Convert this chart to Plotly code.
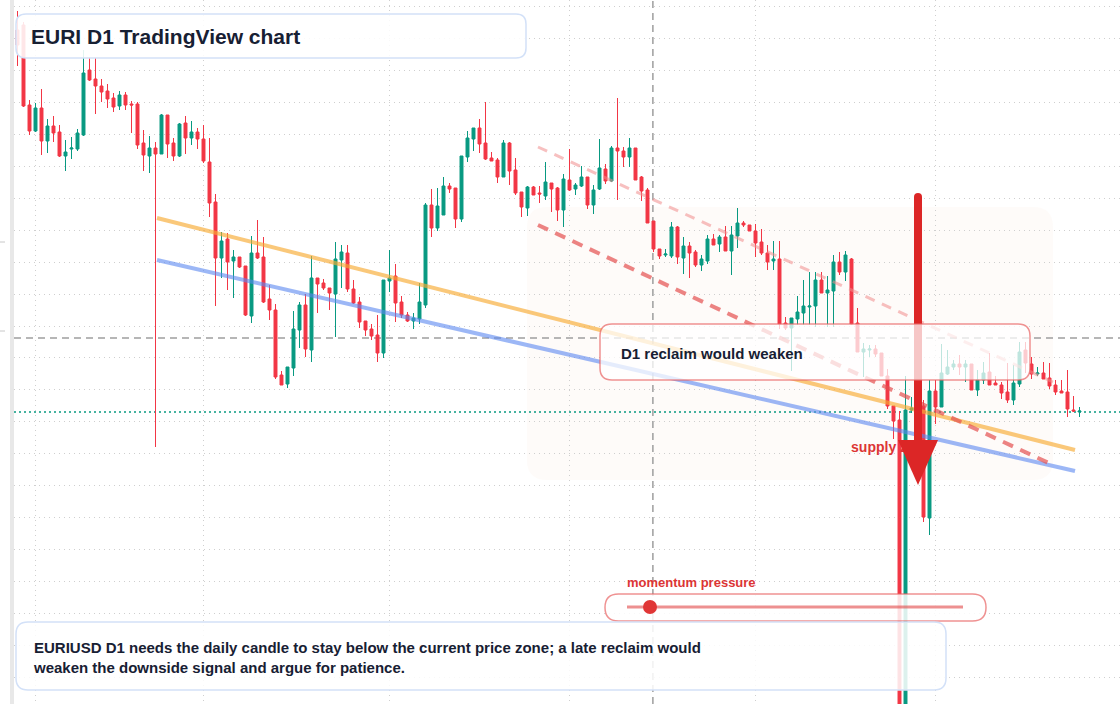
import pandas as pd
import plotly.graph_objects as go

# ---------------- data ----------------
START_DATE = "2025-01-29"
N_CANDLES = 178
dates = pd.date_range(START_DATE, periods=N_CANDLES, freq="D")

OPEN = [1.1970, 1.1975, 1.1895, 1.1869, 1.1892, 1.1859, 1.1874, 1.1868, 1.1844, 1.1851,
        1.1851, 1.1865, 1.1930, 1.1921, 1.1914, 1.1909, 1.1902, 1.1894, 1.1905, 1.1896,
        1.1896, 1.1857, 1.1844, 1.1852, 1.1846, 1.1885, 1.1857, 1.1844, 1.1877, 1.1862,
        1.1868, 1.1861, 1.1838, 1.1798, 1.1742, 1.1761, 1.1739, 1.1743, 1.1734, 1.1684,
        1.1747, 1.1743, 1.1701, 1.1690, 1.1625, 1.1616, 1.1632, 1.1670, 1.1695, 1.1650,
        1.1722, 1.1717, 1.1712, 1.1706, 1.1740, 1.1747, 1.1711, 1.1698, 1.1679, 1.1671,
        1.1665, 1.1647, 1.1719, 1.1724, 1.1698, 1.1685, 1.1679, 1.1681, 1.1695, 1.1795,
        1.1772, 1.1785, 1.1814, 1.1812, 1.1781, 1.1843, 1.1861, 1.1872, 1.1857, 1.1842,
        1.1840, 1.1823, 1.1857, 1.1830, 1.1808, 1.1792, 1.1813, 1.1807, 1.1804, 1.1817,
        1.1812, 1.1790, 1.1820, 1.1811, 1.1814, 1.1823, 1.1795, 1.1811, 1.1831, 1.1819,
        1.1852, 1.1849, 1.1843, 1.1852, 1.1823, 1.1810, 1.1779, 1.1751, 1.1745, 1.1744,
        1.1773, 1.1742, 1.1754, 1.1748, 1.1735, 1.1739, 1.1761, 1.1756, 1.1763, 1.1749,
        1.1764, 1.1777, 1.1775, 1.1769, 1.1758, 1.1747, 1.1739, 1.1741, 1.1677, 1.1672,
        1.1681, 1.1687, 1.1693, 1.1694, 1.1720, 1.1707, 1.1709, 1.1738, 1.1728, 1.1741,
        1.1677, 1.1648, 1.1650, 1.1651, 1.1647, 1.1624, 1.1594, 1.1580, 1.1010, 1.1590,
        1.1590, 1.1594, 1.1482, 1.1609, 1.1593, 1.1626, 1.1633, 1.1636, 1.1633, 1.1636,
        1.1610, 1.1620, 1.1628, 1.1617, 1.1615, 1.1608, 1.1600, 1.1616, 1.1650, 1.1636,
        1.1626, 1.1627, 1.1622, 1.1615, 1.1609, 1.1608, 1.1590, 1.1588]

HIGH = [1.1989, 1.1978, 1.1900, 1.1897, 1.1911, 1.1881, 1.1884, 1.1875, 1.1860, 1.1863,
        1.1871, 1.1950, 1.1943, 1.1942, 1.1921, 1.1916, 1.1907, 1.1909, 1.1908, 1.1899,
        1.1898, 1.1870, 1.1864, 1.1858, 1.1886, 1.1885, 1.1862, 1.1877, 1.1884, 1.1879,
        1.1872, 1.1875, 1.1862, 1.1806, 1.1768, 1.1767, 1.1750, 1.1743, 1.1734, 1.1764,
        1.1780, 1.1763, 1.1715, 1.1696, 1.1629, 1.1633, 1.1689, 1.1698, 1.1706, 1.1744,
        1.1722, 1.1721, 1.1712, 1.1758, 1.1755, 1.1755, 1.1720, 1.1703, 1.1679, 1.1676,
        1.1685, 1.1720, 1.1750, 1.1736, 1.1704, 1.1688, 1.1687, 1.1717, 1.1797, 1.1811,
        1.1812, 1.1823, 1.1817, 1.1812, 1.1844, 1.1869, 1.1872, 1.1881, 1.1898, 1.1848,
        1.1842, 1.1860, 1.1858, 1.1842, 1.1808, 1.1814, 1.1814, 1.1814, 1.1838, 1.1817,
        1.1813, 1.1826, 1.1851, 1.1817, 1.1834, 1.1823, 1.1815, 1.1861, 1.1836, 1.1854,
        1.1902, 1.1853, 1.1862, 1.1852, 1.1824, 1.1812, 1.1779, 1.1751, 1.1751, 1.1778,
        1.1774, 1.1763, 1.1758, 1.1750, 1.1745, 1.1765, 1.1766, 1.1765, 1.1774, 1.1774,
        1.1792, 1.1779, 1.1775, 1.1776, 1.1771, 1.1755, 1.1759, 1.1759, 1.1683, 1.1682,
        1.1704, 1.1720, 1.1728, 1.1728, 1.1728, 1.1724, 1.1745, 1.1748, 1.1749, 1.1742,
        1.1692, 1.1657, 1.1655, 1.1655, 1.1647, 1.1631, 1.1594, 1.1589, 1.1624, 1.1603,
        1.1615, 1.1600, 1.1620, 1.1620, 1.1656, 1.1650, 1.1640, 1.1645, 1.1640, 1.1636,
        1.1630, 1.1638, 1.1647, 1.1624, 1.1618, 1.1637, 1.1635, 1.1658, 1.1658, 1.1643,
        1.1633, 1.1638, 1.1637, 1.1620, 1.1620, 1.1630, 1.1604, 1.1593]

LOW = [1.1934, 1.1893, 1.1865, 1.1868, 1.1845, 1.1847, 1.1858, 1.1843, 1.1829, 1.1841,
       1.1849, 1.1864, 1.1919, 1.1886, 1.1898, 1.1892, 1.1888, 1.1890, 1.1890, 1.1867,
       1.1851, 1.1829, 1.1827, 1.1553, 1.1846, 1.1842, 1.1839, 1.1843, 1.1846, 1.1855,
       1.1851, 1.1837, 1.1783, 1.1694, 1.1722, 1.1710, 1.1702, 1.1732, 1.1684, 1.1677,
       1.1741, 1.1697, 1.1680, 1.1621, 1.1615, 1.1612, 1.1624, 1.1652, 1.1643, 1.1638,
       1.1687, 1.1710, 1.1690, 1.1663, 1.1712, 1.1708, 1.1696, 1.1672, 1.1664, 1.1660,
       1.1638, 1.1642, 1.1708, 1.1678, 1.1682, 1.1678, 1.1671, 1.1676, 1.1692, 1.1763,
       1.1769, 1.1785, 1.1807, 1.1772, 1.1778, 1.1838, 1.1849, 1.1847, 1.1840, 1.1839,
       1.1817, 1.1823, 1.1815, 1.1805, 1.1783, 1.1784, 1.1805, 1.1797, 1.1800, 1.1788,
       1.1779, 1.1773, 1.1809, 1.1805, 1.1813, 1.1791, 1.1786, 1.1810, 1.1816, 1.1818,
       1.1800, 1.1833, 1.1833, 1.1820, 1.1799, 1.1777, 1.1748, 1.1741, 1.1743, 1.1742,
       1.1736, 1.1726, 1.1722, 1.1733, 1.1729, 1.1736, 1.1755, 1.1748, 1.1749, 1.1725,
       1.1752, 1.1773, 1.1769, 1.1743, 1.1745, 1.1730, 1.1730, 1.1671, 1.1670, 1.1629,
       1.1675, 1.1675, 1.1675, 1.1673, 1.1707, 1.1673, 1.1673, 1.1725, 1.1719, 1.1675,
       1.1648, 1.1623, 1.1643, 1.1643, 1.1624, 1.1591, 1.1561, 1.1000, 1.1000, 1.1587,
       1.1580, 1.1478, 1.1465, 1.1576, 1.1593, 1.1625, 1.1630, 1.1625, 1.1618, 1.1610,
       1.1604, 1.1616, 1.1615, 1.1615, 1.1601, 1.1597, 1.1595, 1.1613, 1.1627, 1.1621,
       1.1624, 1.1621, 1.1611, 1.1605, 1.1607, 1.1583, 1.1588, 1.1583]

CLOSE = [1.1955, 1.1894, 1.1869, 1.1892, 1.1859, 1.1874, 1.1867, 1.1844, 1.1848, 1.1852,
         1.1867, 1.1927, 1.1920, 1.1914, 1.1908, 1.1901, 1.1893, 1.1905, 1.1895, 1.1895,
         1.1855, 1.1845, 1.1852, 1.1846, 1.1885, 1.1856, 1.1844, 1.1876, 1.1862, 1.1868,
         1.1861, 1.1839, 1.1797, 1.1742, 1.1759, 1.1738, 1.1743, 1.1733, 1.1685, 1.1747,
         1.1742, 1.1698, 1.1690, 1.1623, 1.1615, 1.1633, 1.1671, 1.1695, 1.1651, 1.1722,
         1.1716, 1.1712, 1.1707, 1.1741, 1.1748, 1.1711, 1.1697, 1.1678, 1.1670, 1.1664,
         1.1647, 1.1720, 1.1722, 1.1697, 1.1685, 1.1679, 1.1682, 1.1698, 1.1795, 1.1772,
         1.1794, 1.1814, 1.1811, 1.1781, 1.1844, 1.1862, 1.1872, 1.1856, 1.1841, 1.1839,
         1.1823, 1.1857, 1.1829, 1.1807, 1.1793, 1.1813, 1.1805, 1.1806, 1.1818, 1.1811,
         1.1790, 1.1821, 1.1810, 1.1815, 1.1823, 1.1795, 1.1810, 1.1832, 1.1819, 1.1852,
         1.1849, 1.1843, 1.1852, 1.1820, 1.1809, 1.1777, 1.1751, 1.1744, 1.1746, 1.1773,
         1.1743, 1.1754, 1.1747, 1.1735, 1.1741, 1.1761, 1.1755, 1.1763, 1.1749, 1.1765,
         1.1777, 1.1775, 1.1769, 1.1757, 1.1747, 1.1738, 1.1741, 1.1676, 1.1672, 1.1682,
         1.1688, 1.1694, 1.1694, 1.1720, 1.1707, 1.1710, 1.1738, 1.1728, 1.1745, 1.1676,
         1.1648, 1.1651, 1.1651, 1.1646, 1.1624, 1.1594, 1.1579, 1.1010, 1.1590, 1.1592,
         1.1605, 1.1483, 1.1609, 1.1593, 1.1627, 1.1633, 1.1636, 1.1633, 1.1636, 1.1610,
         1.1620, 1.1627, 1.1615, 1.1615, 1.1607, 1.1600, 1.1617, 1.1648, 1.1637, 1.1626,
         1.1627, 1.1621, 1.1614, 1.1608, 1.1607, 1.1591, 1.1589, 1.1589]

# trend / channel lines (dates, prices)
TREND_DATES = ["2025-02-21 06:00", "2025-07-24 06:00"]
ORANGE_TREND = [1.1782, 1.1550]
BLUE_TREND = [1.1740, 1.1529]
CHANNEL_DATES = ["2025-04-25 18:00", "2025-07-20 14:00"]
CHANNEL_UPPER = [1.1853, 1.1618]
CHANNEL_LOWER = [1.1775, 1.1535]

RECLAIM_LEVEL = 1.1662
LAST_PRICE = 1.1588
CROSSHAIR_DATE = "2025-05-14 21:30"

TITLE = "EURI D1 TradingView chart"
ZONE_NOTE = "D1 reclaim would weaken"
ZONE_LABEL = "supply zone"
MOMENTUM_LABEL = "momentum pressure"
FOOTNOTE = ("EURIUSD D1 needs the daily candle to stay below the current price zone; a late reclaim would"
            "<br>weaken the downside signal and argue for patience.")

# ---------------- layout helpers (pixel -> paper / data) ----------------
W, H = 1120, 704
ML = 14
PW = W - ML
PX_PER_DAY = 6.0
X_START = pd.Timestamp("2025-02-01") - pd.Timedelta(days=(35.5 - ML) / PX_PER_DAY)
X_END = X_START + pd.Timedelta(days=PW / PX_PER_DAY)
Y_TOP = 1.2000
Y_BOT = Y_TOP - H * 0.0001


def X(px):
    return (px - ML) / PW


def Y(py):
    return 1 - py / H


def px_date(px):
    return X_START + pd.Timedelta(days=(px - ML) / PX_PER_DAY)


def py_price(py):
    return Y_TOP - py * 0.0001


def rrect(x0, y0, x1, y1, r):
    return (f"M{X(x0 + r)},{Y(y0)} L{X(x1 - r)},{Y(y0)} Q{X(x1)},{Y(y0)} {X(x1)},{Y(y0 + r)} "
            f"L{X(x1)},{Y(y1 - r)} Q{X(x1)},{Y(y1)} {X(x1 - r)},{Y(y1)} "
            f"L{X(x0 + r)},{Y(y1)} Q{X(x0)},{Y(y1)} {X(x0)},{Y(y1 - r)} "
            f"L{X(x0)},{Y(y0 + r)} Q{X(x0)},{Y(y0)} {X(x0 + r)},{Y(y0)} Z")


RED = "#f23645"
GREEN = "#089981"
ARROW_RED = "#dc2626"
FONT = "Liberation Sans, Arial, sans-serif"
TXT_SHIFT = 3  # annotation inner padding compensation

fig = go.Figure()

fig.add_trace(go.Candlestick(
    x=dates, open=OPEN, high=HIGH, low=LOW, close=CLOSE,
    increasing=dict(line=dict(color=GREEN, width=1), fillcolor=GREEN),
    decreasing=dict(line=dict(color=RED, width=1), fillcolor=RED),
    whiskerwidth=0, showlegend=False, hoverinfo="skip",
))

fig.add_trace(go.Scatter(x=TREND_DATES, y=ORANGE_TREND, mode="lines",
                         line=dict(color="rgba(247,170,50,0.65)", width=4),
                         showlegend=False, hoverinfo="skip"))
fig.add_trace(go.Scatter(x=TREND_DATES, y=BLUE_TREND, mode="lines",
                         line=dict(color="rgba(90,135,240,0.6)", width=4),
                         showlegend=False, hoverinfo="skip"))
fig.add_trace(go.Scatter(x=CHANNEL_DATES, y=CHANNEL_UPPER, mode="lines",
                         line=dict(color="rgba(240,140,140,0.55)", width=3, dash="10px,8px"),
                         showlegend=False, hoverinfo="skip"))
fig.add_trace(go.Scatter(x=CHANNEL_DATES, y=CHANNEL_LOWER, mode="lines",
                         line=dict(color="rgba(228,80,80,0.7)", width=4, dash="11px,8px"),
                         showlegend=False, hoverinfo="skip"))

# supply zone label (below the arrow)
fig.add_trace(go.Scatter(x=[px_date(891.5)], y=[py_price(448)], mode="text",
                         text=[f"<b>{ZONE_LABEL}</b>"], textposition="middle center",
                         textfont=dict(family=FONT, size=14, color="#dc3535"),
                         showlegend=False, hoverinfo="skip"))

shapes = []
# left gray strip + tiny marks
shapes.append(dict(type="rect", xref="paper", yref="paper", x0=X(10), x1=X(14), y0=0, y1=1,
                   fillcolor="#e8e8e8", line=dict(width=0), layer="above"))
for my in (242, 331):
    shapes.append(dict(type="line", xref="paper", yref="paper", x0=X(0), x1=X(5), y0=Y(my), y1=Y(my),
                       line=dict(color="#c8c8c8", width=1)))
# supply zone shading
shapes.append(dict(type="path", xref="paper", yref="paper", path=rrect(527, 207, 1053, 480, 20),
                   fillcolor="rgba(240,200,175,0.07)", line=dict(width=0), layer="below"))
# reclaim level, crosshair, last price
shapes.append(dict(type="line", xref="paper", yref="y", x0=0, x1=1, y0=RECLAIM_LEVEL, y1=RECLAIM_LEVEL,
                   line=dict(color="#9e9e9e", width=1.5, dash="7px,5px"), layer="below"))
shapes.append(dict(type="line", xref="x", yref="paper", x0=CROSSHAIR_DATE, x1=CROSSHAIR_DATE, y0=0, y1=1,
                   line=dict(color="#9e9e9e", width=1.5, dash="7px,5px"), layer="below"))
shapes.append(dict(type="line", xref="paper", yref="y", x0=0, x1=1, y0=LAST_PRICE, y1=LAST_PRICE,
                   line=dict(color=GREEN, width=1.5, dash="2px,3px"), layer="below"))
# arrow
shapes.append(dict(type="line", xref="paper", yref="paper", x0=X(918), x1=X(918), y0=Y(197), y1=Y(443),
                   line=dict(color=ARROW_RED, width=8), layer="above"))
shapes.append(dict(type="circle", xref="paper", yref="paper", x0=X(914), x1=X(922), y0=Y(201), y1=Y(193),
                   fillcolor=ARROW_RED, line=dict(width=0), layer="above"))
shapes.append(dict(type="path", xref="paper", yref="paper",
                   path=f"M{X(898)},{Y(440)} L{X(938)},{Y(440)} L{X(918)},{Y(485)} Z",
                   fillcolor=ARROW_RED, line=dict(width=0), layer="above"))
# boxes
shapes.append(dict(type="path", xref="paper", yref="paper", path=rrect(16, 14, 526, 58, 10),
                   fillcolor="rgba(255,255,255,0.88)", line=dict(color="#d3e1f8", width=1.5), layer="above"))
shapes.append(dict(type="path", xref="paper", yref="paper", path=rrect(600, 324, 1030, 380, 12),
                   fillcolor="rgba(255,255,255,0.74)", line=dict(color="rgba(232,100,100,0.7)", width=1.5),
                   layer="above"))
shapes.append(dict(type="path", xref="paper", yref="paper", path=rrect(605, 594, 986, 621, 13.5),
                   fillcolor="rgba(255,255,255,0.85)", line=dict(color="rgba(232,100,100,0.7)", width=1.5),
                   layer="above"))
shapes.append(dict(type="path", xref="paper", yref="paper", path=rrect(16, 622, 946, 690, 12),
                   fillcolor="rgba(255,255,255,0.86)", line=dict(color="#d3e1f8", width=1.5), layer="above"))
# momentum slider
shapes.append(dict(type="line", xref="paper", yref="paper", x0=X(627), x1=X(963), y0=Y(607), y1=Y(607),
                   line=dict(color="rgba(225,70,70,0.6)", width=3), layer="above"))
shapes.append(dict(type="circle", xref="paper", yref="paper", x0=X(643), x1=X(657), y0=Y(614), y1=Y(600),
                   fillcolor="#e03636", line=dict(width=0), layer="above"))

annotations = [
    dict(text=f"<b>{TITLE}</b>", xref="paper", yref="paper", x=X(32 - TXT_SHIFT), y=Y(36), xanchor="left",
         yanchor="middle", showarrow=False, font=dict(family=FONT, size=21, color="#172033")),
    dict(text=f"<b>{ZONE_NOTE}</b>", xref="paper", yref="paper", x=X(622 - TXT_SHIFT), y=Y(353),
         xanchor="left", yanchor="middle", showarrow=False, font=dict(family=FONT, size=15, color="#172033")),
    dict(text=f"<b>{MOMENTUM_LABEL}</b>", xref="paper", yref="paper", x=X(627 - 2), y=Y(582),
         xanchor="left", yanchor="middle", showarrow=False, font=dict(family=FONT, size=13, color="#dc3535")),
    dict(text=f"<b>{FOOTNOTE}</b>", xref="paper", yref="paper", x=X(34 - TXT_SHIFT), y=Y(657),
         xanchor="left", yanchor="middle", align="left", showarrow=False,
         font=dict(family=FONT, size=15, color="#172033")),
]

fig.update_layout(
    width=W, height=H,
    margin=dict(l=ML, r=0, t=0, b=0, pad=0),
    paper_bgcolor="white", plot_bgcolor="white",
    showlegend=False,
    shapes=shapes, annotations=annotations,
    xaxis=dict(type="date", range=[X_START, X_END], showticklabels=False, ticks="",
               showgrid=True, gridcolor="#cfcfcf", griddash="1px,4px", gridwidth=1.2,
               dtick="M1", tick0="2025-01-01", zeroline=False, showline=False,
               rangeslider=dict(visible=False), fixedrange=True),
    yaxis=dict(range=[Y_BOT, Y_TOP], showticklabels=False, ticks="",
               showgrid=True, gridcolor="#cfcfcf", griddash="1px,4px", gridwidth=1.2,
               tick0=1.19935, dtick=0.003195, zeroline=False, showline=False, fixedrange=True),
    hovermode=False,
)

fig.write_html("out.html")
